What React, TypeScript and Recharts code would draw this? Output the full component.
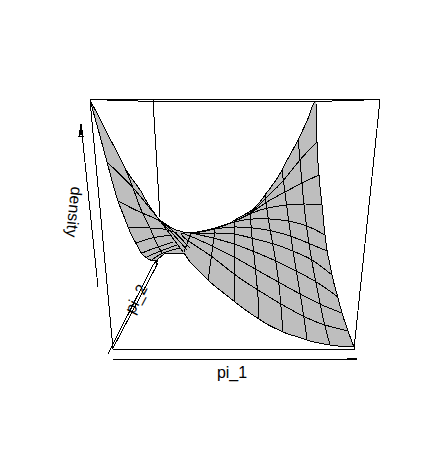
import React from "react";
import { ComposedChart, Area, Scatter, XAxis, YAxis } from "recharts";

const W = 431;
const H = 467;

// Surface silhouette, as [x, top, bottom]
const surfaceX = [90,100,107,118,125,128,138,142,143,155,158,167,170,183,190,200,210,213,230,235,240,252,259,265,282,283,298,307,316,317,319,322,325,327,330,332,338,342,348,354];
const surfaceTop = [100,119,133,154,168,173,187,193,195,214,218,225,227,232,233,232,230,229,223,220,217,210,203,195,170,168,140,121,101,142,175,205,235,250,265,275,298,313,331,347];
const surfaceBottom = [100,136,162,201,219,227,247,254,255,261,259,253,253,253,262,272,282,284.5,298,302,306,314.5,319,323,331.5,332,337,340,342.5,342.7,343,343.6,344.2,344.6,345,345.3,346,346.4,346.8,347];

type P = [number, number];

// Cross lines on the right-hand sheet
const across1: P[] = [[317,142],[300,160],[282,182],[267,197],[250,213],[235,221]];
const across2: P[] = [[319,175],[302,183],[285,192],[267,202],[252,212],[235,221]];
const across3: P[] = [[322,205],[305,204],[287,205],[268,208],[252,213],[235,221]];
const across4: P[] = [[325,235],[307,226],[288,221],[270,219],[253,219],[234,222],[215,228],[192,233]];
const across5: P[] = [[327,251],[308,243],[290,236],[272,231],[253,228],[234,227],[215,229],[192,233]];
const across6: P[] = [[332,275],[312,260],[295,252],[277,245],[255,239],[234,234],[214,233],[192,233]];
const across7: P[] = [[338,297],[318,283],[298,272],[278,262],[255,252],[234,244],[213,238],[191,233]];
const across8: P[] = [[342,313],[322,305],[302,295],[280,283],[257,270],[234,257],[212,246],[190,236],[181,233]];
const across9: P[] = [[348,331],[325,325],[305,317],[281,304],[258,290],[234,274],[211,256],[187,240],[181,233]];

// Long lines on the right-hand sheet
const along1: P[] = [[298,140],[300,160],[304,205],[308,237],[312,262],[318,293],[324,322],[330,345]];
const along2: P[] = [[282,170],[285,193],[289,223],[294,257],[299,287],[304,318],[307,340]];
const along3: P[] = [[265,195],[268,217],[272,240],[276,263],[279,285],[281,307],[283,332]];
const along4: P[] = [[250,212],[252,237],[254,255],[256,275],[258,297],[259,319]];
const along5: P[] = [[234,221],[234,260],[234,302]];
const along6: P[] = [[215,229],[212,252],[208,281]];
const along7: P[] = [[191,233],[184,252]];

// Left-hand sheet
const left1: P[] = [[125,168],[133,188],[142,212],[150,228],[155,240],[162,253]];
const left2: P[] = [[158,218],[172,237],[183,252]];
const left3: P[] = [[107,162],[135,190],[158,218],[172,230],[190,248]];
const left4: P[] = [[118,201],[142,213],[158,220],[172,233],[187,250]];
const left5: P[] = [[128,227],[150,228],[163,229],[177,233]];
const left6: P[] = [[136,243],[152,238],[172,235]];
const left7: P[] = [[142,253],[155,248],[173,242]];
const left8: P[] = [[147,257],[158,252],[177,245]];
const left9: P[] = [[152,260],[163,253],[180,248]];

// Box
const boxTop: P[] = [[90,99.5],[380,99.5]];
const boxTopBackA: P[] = [[107,100.5],[138,100.5]];
const boxTopBackB: P[] = [[138,101.5],[332,101.5]];
const boxTopBackC: P[] = [[332,100.5],[364,100.5]];
const boxRight: P[] = [[380,100],[354,349]];
const boxBottom: P[] = [[113,349],[355,349]];
const boxLeft: P[] = [[90,100],[113,349]];
const boxBack: P[] = [[153,100],[160,217]];
const boxFloor: P[] = [[113,348],[158,263]];

// Axis arrows
const arrowX: P[] = [[113,359],[357,359],[347,358],[347,360],[357,359]];
const arrowY: P[] = [[153,265],[108,354]];
const arrowYHead: P[] = [[153,265],[158,259],[155,269],[158,259]];
const arrowZ: P[] = [[98,287],[81,124],[83,136],[79,136],[81,124],[82,134],[80,134],[81,124]];

const straightLines: P[][] = [
  boxBack, boxTop, boxTopBackA, boxTopBackB, boxTopBackC, boxRight, boxBottom, boxLeft, boxFloor,
  arrowX, arrowY, arrowYHead, arrowZ,
];
const curvedLines: P[][] = [
  across1, across2, across3, across4, across5, across6, across7, across8, across9,
  along1, along2, along3, along4, along5, along6, along7,
  left1, left2, left3, left4, left5, left6, left7, left8, left9,
];

const axisTitles = ["pi_1", "pi_2", "density"];
const titleX = [232, 136, 74];
const titleY = [372, 299, 212];
const titleAngle = [0, -62, 96];

const surfaceData = surfaceX.map((x, i) => ({ x, range: [surfaceTop[i], surfaceBottom[i]] }));
const topOutline = surfaceX.map((x, i) => ({ x, y: surfaceTop[i] }));
const bottomOutline = surfaceX.map((x, i) => ({ x, y: surfaceBottom[i] }));
const titleData = axisTitles.map((name, i) => ({ x: titleX[i], y: titleY[i], name, angle: titleAngle[i] }));

const noMark = () => <g />;
const lineStyle = { stroke: "#000", strokeWidth: 1, fill: "none", shapeRendering: "crispEdges" };

const TitleMark = (props: any) => {
  const { cx, cy, payload } = props;
  return (
    <text
      x={cx}
      y={cy}
      fontFamily="'Liberation Sans', Arial, sans-serif"
      fontSize={16}
      fill="#000"
      textAnchor="middle"
      dominantBaseline="central"
      transform={`rotate(${payload.angle} ${cx} ${cy})`}
    >
      {payload.name}
    </text>
  );
};

export default function App() {
  return (
    <div style={{ position: "absolute", left: 0, top: 0, width: W, height: H, background: "#fff" }}>
      <ComposedChart width={W} height={H} data={surfaceData} margin={{ top: 0, right: 0, bottom: 0, left: 0 }}>
        <XAxis dataKey="x" type="number" domain={[0, W]} hide allowDataOverflow />
        <YAxis dataKey="y" type="number" domain={[0, H]} reversed hide allowDataOverflow />
        <Area
          dataKey="range"
          type="monotone"
          fill="#BEBEBE"
          fillOpacity={1}
          stroke="none"
          isAnimationActive={false}
          dot={false}
          activeDot={false}
        />
        <Scatter data={topOutline} line={lineStyle} lineJointType="monotone" shape={noMark} isAnimationActive={false} />
        <Scatter data={bottomOutline} line={lineStyle} lineJointType="monotone" shape={noMark} isAnimationActive={false} />
        {straightLines.map((pts, i) => (
          <Scatter
            key={"s" + i}
            data={pts.map(([x, y]) => ({ x, y }))}
            line={lineStyle}
            shape={noMark}
            isAnimationActive={false}
          />
        ))}
        {curvedLines.map((pts, i) => (
          <Scatter
            key={"c" + i}
            data={pts.map(([x, y]) => ({ x, y }))}
            line={lineStyle}
            lineJointType="natural"
            shape={noMark}
            isAnimationActive={false}
          />
        ))}
        <Scatter data={titleData} shape={TitleMark} isAnimationActive={false} />
      </ComposedChart>
    </div>
  );
}
